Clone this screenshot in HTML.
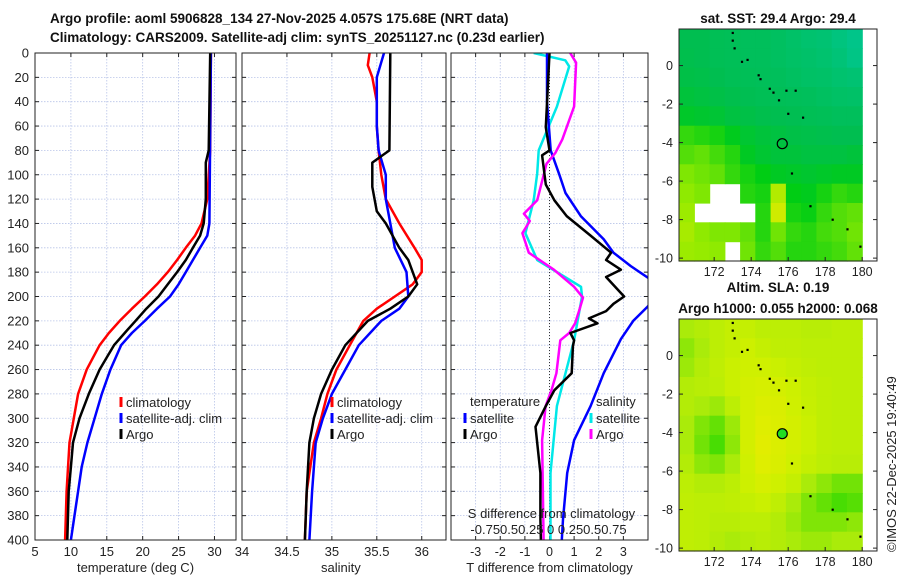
<!DOCTYPE html>
<html><head><meta charset="utf-8"><style>
body{margin:0;background:#fff;}
svg{display:block;font-family:"Liberation Sans","DejaVu Sans",sans-serif;}
</style></head><body>
<svg id="fig" width="900" height="580" viewBox="0 0 900 580">
<defs><clipPath id="clip3"><rect x="451" y="53" width="197" height="487"/></clipPath></defs>
</svg>
<script>
// ---------- data ----------
const depthTicks=[0,20,40,60,80,100,120,140,160,180,200,220,240,260,280,300,320,340,360,380,400];
const tempClimD=[0,80,120,140,150,160,170,180,190,200,210,220,230,240,260,280,300,320,360,400];
const tempClimV=[29.5,29.4,29.0,28.2,27.3,26,24.8,23.5,22,20.3,18.5,16.8,15.3,14.0,12.2,11,10.4,9.8,9.4,9.2];
const tempSatD=[0,140,150,160,170,180,190,200,210,220,230,240,260,280,300,320,340,360,380,400];
const tempSatV=[29.5,29.3,29,28,27,26,25,23.8,22,20.3,18.5,17,15.5,14.3,13.3,12.3,11.5,11,10.5,10];
const tempArgoD=[0,80,90,120,140,150,160,170,180,190,200,210,220,230,240,250,260,280,300,320,340,360,400];
const tempArgoV=[29.4,29.2,28.8,28.8,28.5,28,27,26,24.8,23.5,22.2,20.5,19,17.5,16,15,14,12.5,11.2,10.3,10,9.7,9.5];
const salClimD=[0,10,20,40,60,80,100,120,140,160,170,180,190,200,210,220,240,260,280,300,320,360,400];
const salClimV=[35.42,35.4,35.45,35.5,35.5,35.52,35.55,35.6,35.75,35.92,36.0,36.0,35.9,35.7,35.5,35.35,35.2,35.05,34.95,34.88,34.8,34.72,34.7];
const salSatD=[0,20,40,60,80,100,120,140,160,180,200,210,220,240,260,280,300,320,360,400];
const salSatV=[35.58,35.5,35.5,35.5,35.52,35.6,35.6,35.65,35.7,35.83,35.85,35.75,35.55,35.3,35.15,35.0,34.9,34.82,34.78,34.75];
const salArgoD=[0,80,90,110,130,140,160,170,180,190,200,210,220,240,260,280,300,320,360,400];
const salArgoV=[35.65,35.64,35.45,35.45,35.5,35.6,35.75,35.85,35.9,35.95,35.85,35.65,35.4,35.15,35.0,34.88,34.8,34.75,34.72,34.7];
const dTsatD=[0,40,80,100,115,134,153,164,175,186,195,208,220,235,263,290,318,345,383,400];
const dTsatV=[-0.1,-0.1,0.05,0.4,0.65,1.27,2.2,2.6,3.3,4.1,4.5,4.0,3.4,2.9,2.2,1.67,1.0,0.72,0.55,0.5];
const dTargoD=[0,61,80,84,108,121,134,150,164,170,178,184,200,206,212,218,222,230,236,241,263,277,290,307,345,383,400];
const dTargoV=[0,-0.15,0,-0.3,-0.15,0.2,0.7,1.67,2.5,2.3,2.9,2.3,3.03,2.6,2.3,1.6,1.95,0.85,1.0,0.95,0.9,0.2,-0.15,-0.57,-0.37,-0.37,-0.35];
const dSsatD=[0,6,11,44,80,99,121,148,170,192,200,236,290,345,400];
const dSsatV=[-0.16,0.16,0.2,0.075,-0.11,-0.125,-0.16,-0.245,-0.125,0.32,0.33,0.25,0.075,0.01,0.01];
const dSargoD=[0,8,44,71,82,91,121,132,138,148,164,178,192,201,212,222,230,236,263,277,290,318,400];
const dSargoV=[0.21,0.27,0.25,0.13,0.06,-0.03,-0.125,-0.26,-0.2,-0.275,-0.21,0.045,0.25,0.34,0.3,0.26,0.2,0.11,0.07,0.02,-0.04,-0.075,-0.06];
const sstGrid=[
[0.35,0.35,0.33,0.32,0.3,0.3,0.28,0.25,0.22,0.2,0.15,0.1],
[0.36,0.35,0.33,0.32,0.3,0.3,0.28,0.26,0.24,0.22,0.18,0.12],
[0.38,0.37,0.35,0.33,0.32,0.31,0.3,0.28,0.26,0.25,0.22,0.2],
[0.42,0.4,0.38,0.36,0.34,0.33,0.32,0.31,0.3,0.28,0.26,0.25],
[0.48,0.46,0.44,0.4,0.38,0.36,0.35,0.34,0.33,0.32,0.3,0.3],
[0.62,0.6,0.58,0.52,0.45,0.42,0.4,0.38,0.37,0.36,0.35,0.35],
[0.66,0.68,0.64,0.6,0.5,0.45,0.42,0.42,0.4,0.4,0.4,0.42],
[0.72,0.7,0.68,0.62,0.58,0.55,0.5,0.48,0.46,0.48,0.5,0.5],
[0.74,0.72,null,null,0.6,0.58,0.8,0.55,0.52,0.58,0.62,0.6],
[0.76,null,null,null,null,0.6,0.85,0.58,0.56,0.62,0.66,0.68],
[0.78,0.74,0.72,0.72,0.68,0.6,0.7,0.62,0.6,0.64,0.66,0.7],
[0.76,0.75,0.74,null,0.7,0.62,0.66,0.6,0.6,0.62,0.64,0.68]];
const slaGrid=[
[0.5,0.55,0.6,0.65,0.65,0.6,0.6,0.6,0.58,0.58,0.6,0.6],
[0.4,0.5,0.6,0.65,0.7,0.65,0.62,0.62,0.6,0.6,0.6,0.6],
[0.45,0.55,0.62,0.68,0.72,0.72,0.68,0.65,0.62,0.6,0.6,0.6],
[0.55,0.58,0.6,0.68,0.75,0.78,0.75,0.7,0.65,0.62,0.6,0.6],
[0.55,0.5,0.45,0.6,0.75,0.82,0.8,0.72,0.66,0.62,0.6,0.6],
[0.5,0.35,0.25,0.45,0.75,0.85,0.82,0.75,0.68,0.62,0.6,0.6],
[0.5,0.3,0.15,0.4,0.75,0.88,0.82,0.75,0.68,0.62,0.6,0.6],
[0.55,0.4,0.35,0.5,0.72,0.85,0.8,0.72,0.65,0.6,0.58,0.58],
[0.6,0.55,0.55,0.6,0.7,0.78,0.72,0.65,0.5,0.4,0.3,0.3],
[0.62,0.6,0.6,0.62,0.65,0.68,0.62,0.5,0.35,0.25,0.15,0.2],
[0.62,0.6,0.58,0.58,0.6,0.6,0.55,0.45,0.35,0.35,0.35,0.4],
[0.62,0.6,0.55,0.5,0.55,0.58,0.55,0.5,0.45,0.45,0.5,0.5]];
const islandLon=[173.0,173.0,173.1,173.5,173.8,174.4,174.5,175.0,175.2,175.5,175.9,176.4,176.0,176.8,177.2,178.4,179.2,179.9,176.2];
const islandLat=[1.7,1.3,0.9,0.2,0.3,-0.5,-0.7,-1.2,-1.4,-1.8,-1.3,-1.3,-2.5,-2.7,-7.3,-8.0,-8.5,-9.4,-5.6];
const argoLon=175.68, argoLat=-4.057;
const tTickLabels=["5","10","15","20","25","30"];
const tTicks=[5,10,15,20,25,30];
const sTicks=[34,34.5,35,35.5,36];
const sTickLabels=["34","34.5","35","35.5","36"];
const dTicks=[-3,-2,-1,0,1,2,3];
const lonTicks=[172,174,176,178,180];
const latTicks=[0,-2,-4,-6,-8,-10];

// ---------- helpers ----------
const NS="http://www.w3.org/2000/svg";
const svg=document.getElementById('fig');
function mk(tag,attrs,parent){const e=document.createElementNS(NS,tag);for(const k in attrs)e.setAttribute(k,attrs[k]);(parent||svg).appendChild(e);return e;}
function txt(s,x,y,opts,parent){const e=mk('text',Object.assign({x:x,y:y,'font-size':13,fill:'#222'},opts||{}),parent);e.textContent=s;return e;}
const Y0=53,Y1=540;
const yD=d=>Y0+(Y1-Y0)*d/400;

function panel(name,x0,x1,vmin,vmax){
  const g=mk('g',{});
  
  
  const sx=v=>x0+(x1-x0)*(v-vmin)/(vmax-vmin);
  return {g,sx,x0,x1};
}
function grid(p,xt){
  depthTicks.forEach(d=>{mk('line',{x1:p.x0,x2:p.x1,y1:yD(d),y2:yD(d),stroke:'#b8c4e8','stroke-width':0.8,'stroke-dasharray':'1.5,1.5'},p.g);});
  xt.forEach(v=>{mk('line',{x1:p.sx(v),x2:p.sx(v),y1:Y0,y2:Y1,stroke:'#b8c4e8','stroke-width':0.8,'stroke-dasharray':'1.5,1.5'},p.g);});
  depthTicks.forEach(d=>{mk('line',{x1:p.x0,x2:p.x0+4,y1:yD(d),y2:yD(d),stroke:'#222'},p.g);mk('line',{x1:p.x1,x2:p.x1-4,y1:yD(d),y2:yD(d),stroke:'#222'},p.g);});
  xt.forEach(v=>{mk('line',{x1:p.sx(v),x2:p.sx(v),y1:Y1,y2:Y1-4,stroke:'#222'},p.g);mk('line',{x1:p.sx(v),x2:p.sx(v),y1:Y0,y2:Y0+4,stroke:'#222'},p.g);});
}
function frame(p){mk('rect',{x:p.x0,y:Y0,width:p.x1-p.x0,height:Y1-Y0,fill:'none',stroke:'#222','stroke-width':1},p.g);}
function line(p,D,V,color,name,scale,clip){
  const pts=D.map((d,i)=>p.sx(V[i]*(scale||1)).toFixed(1)+','+yD(d).toFixed(1)).join(' ');
  const at={points:pts,fill:'none',stroke:color,'stroke-width':2.5,'stroke-linejoin':'round'};
  if(clip)at['clip-path']='url(#'+clip+')';
  const e=mk('polyline',at,p.g);
  
  
}
function legendEntry(p,x,y,color,label,name){
  const g=mk('g',{},p.g);
  
  
  mk('line',{x1:x,x2:x,y1:y-10,y2:y,stroke:color,'stroke-width':3},g);
  txt(label,x+5,y,{},g);
}

let t=txt('Argo profile: aoml 5906828_134 27-Nov-2025 4.057S 175.68E (NRT data)',50,23,{'font-weight':'bold','font-size':13.5,fill:'#111'});

t=txt('Climatology: CARS2009. Satellite-adj clim: synTS_20251127.nc (0.23d earlier)',50,42,{'font-weight':'bold','font-size':13.5,fill:'#111'});


depthTicks.forEach(d=>{const e=txt(String(d),29,yD(d)+4.5,{'text-anchor':'end'});});

const p1=panel('temperature-panel',35,236,5,33);
grid(p1,tTicks);
line(p1,tempClimD,tempClimV,'#ff0000','temp-climatology-line');
line(p1,tempSatD,tempSatV,'#0000ff','temp-satellite-line');
line(p1,tempArgoD,tempArgoV,'#000000','temp-argo-line');
frame(p1);
tTicks.forEach((v,i)=>txt(tTickLabels[i],p1.sx(v),556,{'text-anchor':'middle'},p1.g));
txt('temperature (deg C)',p1.sx(19),572,{'text-anchor':'middle'},p1.g);
legendEntry(p1,121,407,'#ff0000','climatology','legend-climatology');
legendEntry(p1,121,423,'#0000ff','satellite-adj. clim','legend-satellite');
legendEntry(p1,121,439,'#000000','Argo','legend-argo');

const p2=panel('salinity-panel',242,446,34,36.27);
grid(p2,sTicks);
line(p2,salClimD,salClimV,'#ff0000','sal-climatology-line');
line(p2,salSatD,salSatV,'#0000ff','sal-satellite-line');
line(p2,salArgoD,salArgoV,'#000000','sal-argo-line');
frame(p2);
sTicks.forEach((v,i)=>txt(sTickLabels[i],p2.sx(v),556,{'text-anchor':'middle'},p2.g));
txt('salinity',p2.sx(35.1),572,{'text-anchor':'middle'},p2.g);
legendEntry(p2,332,407,'#ff0000','climatology','legend-climatology-2');
legendEntry(p2,332,423,'#0000ff','satellite-adj. clim','legend-satellite-2');
legendEntry(p2,332,439,'#000000','Argo','legend-argo-2');

const p3=panel('difference-panel',451,648,-4,4);
grid(p3,dTicks);
mk('line',{x1:p3.sx(0),x2:p3.sx(0),y1:Y0,y2:Y1,stroke:'#333','stroke-width':1,'stroke-dasharray':'1,2'},p3.g);
line(p3,dSsatD,dSsatV,'#00e8e8','sal-diff-satellite-line',4,'clip3');
line(p3,dTsatD,dTsatV,'#0000ff','temp-diff-satellite-line',1,'clip3');
line(p3,dSargoD,dSargoV,'#ff00ff','sal-diff-argo-line',4,'clip3');
line(p3,dTargoD,dTargoV,'#000000','temp-diff-argo-line',1,'clip3');
frame(p3);
dTicks.forEach(v=>txt(String(v),p3.sx(v),556,{'text-anchor':'middle','font-size':12.5},p3.g));
txt('T difference from climatology',p3.sx(0),572,{'text-anchor':'middle'},p3.g);
txt('S difference from climatology',p3.sx(0)+2,518,{'text-anchor':'middle'},p3.g);
txt('-0.750.50.25 0  0.250.50.75',p3.sx(0)-1,534,{'text-anchor':'middle'},p3.g);
txt('temperature',470,406,{},p3.g);
txt('salinity',596,406,{},p3.g);
legendEntry(p3,465,423,'#0000ff','satellite','legend-temp-satellite');
legendEntry(p3,465,439,'#000000','Argo','legend-temp-argo');
legendEntry(p3,591,423,'#00e8e8','satellite','legend-sal-satellite');
legendEntry(p3,591,439,'#ff00ff','Argo','legend-sal-argo');

function lerp(a,b,t){return a.map((v,i)=>Math.round(v+(b[i]-v)*t));}
function cmap(stops,v){for(let i=1;i<stops.length;i++){if(v<=stops[i][0]){const t=(v-stops[i-1][0])/(stops[i][0]-stops[i-1][0]);return 'rgb('+lerp(stops[i-1][1],stops[i][1],t).join(',')+')';}}return 'rgb('+stops[stops.length-1][1].join(',')+')';}
const sstStops=[[0,[0,200,160]],[0.35,[0,190,80]],[0.55,[0,205,20]],[0.75,[150,235,0]],[0.9,[235,235,0]],[1,[255,150,0]]];
const slaStops=[[0,[30,215,0]],[0.5,[170,235,10]],[0.7,[205,240,0]],[1,[240,235,0]]];
function map(name,top,bottom,grd,stops,title1,title2,dotFill){
  const x0=679,x1=877,lonMin=170.1,lonMax=180.8,latTop=1.9,latBot=-10.15;
  const g=mk('g',{});
  
  
  const sx=l=>x0+(x1-x0)*(l-lonMin)/(lonMax-lonMin);
  const sy=l=>top+(bottom-top)*(latTop-l)/(latTop-latBot);
  const nr=grd.length,nc=grd[0].length,dLon=(180-lonMin)/nc,dLat=(latTop-latBot)/nr;
  grd.forEach((row,r)=>row.forEach((v,c)=>{
    if(v===null)return;
    const xa=sx(lonMin+c*dLon),xb=sx(lonMin+(c+1)*dLon),ya=sy(latTop-r*dLat),yb=sy(latTop-(r+1)*dLat);
    const cell=mk('rect',{x:xa.toFixed(1),y:ya.toFixed(1),width:(xb-xa+0.6).toFixed(1),height:(yb-ya+0.6).toFixed(1),fill:cmap(stops,v)},g);
    
    
  }));
  islandLon.forEach((lo,i)=>mk('rect',{x:sx(lo)-1,y:sy(islandLat[i])-1,width:2.2,height:2.2,fill:'#000'},g));
  const pt=mk('circle',{cx:sx(argoLon),cy:sy(argoLat),r:5,fill:dotFill,stroke:'#000','stroke-width':1.2},g);
  
  
  mk('rect',{x:x0,y:top,width:x1-x0,height:bottom-top,fill:'none',stroke:'#222'},g);
  lonTicks.forEach(l=>{mk('line',{x1:sx(l),x2:sx(l),y1:bottom,y2:bottom-4,stroke:'#222'},g);txt(String(l),sx(l),bottom+15,{'text-anchor':'middle','font-size':12.5},g);});
  latTicks.forEach(l=>{mk('line',{x1:x0,x2:x0+4,y1:sy(l),y2:sy(l),stroke:'#222'},g);mk('line',{x1:x1,x2:x1-4,y1:sy(l),y2:sy(l),stroke:'#222'},g);txt(String(l),673,sy(l)+4.5,{'text-anchor':'end','font-size':12.5},g);});
  txt(title1,778,title2?top-27:top-6,{'text-anchor':'middle','font-weight':'bold','font-size':13.5,fill:'#111'},g);
  if(title2)txt(title2,778,top-6,{'text-anchor':'middle','font-weight':'bold','font-size':13.5,fill:'#111'},g);
}
map('sst-map',29,261,sstGrid,sstStops,'sat. SST: 29.4 Argo: 29.4',null,'none');
map('sla-map',319,551,slaGrid,slaStops,'Altim. SLA: 0.19','Argo h1000: 0.055 h2000: 0.068','#22dd22');
t=txt('©IMOS 22-Dec-2025 19:40:49',0,0,{'font-size':13,transform:'translate(896,552) rotate(-90)'});

</script>
</body></html>
